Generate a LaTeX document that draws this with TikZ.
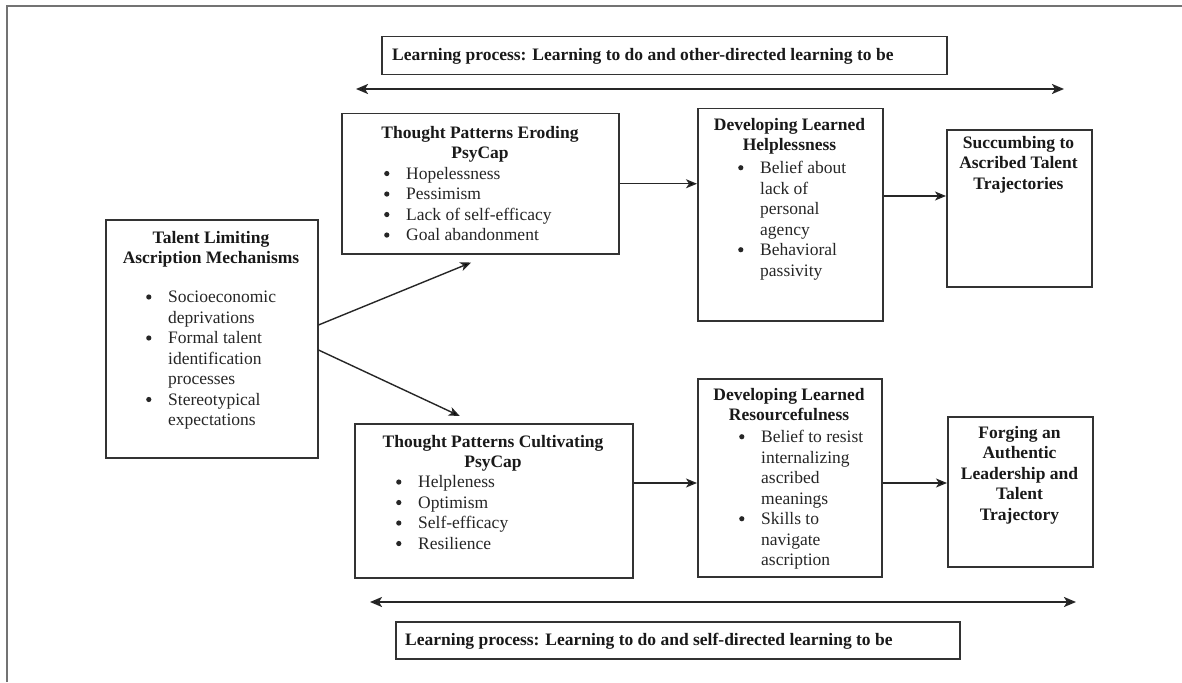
\documentclass[tikz,border=0pt]{standalone}
\usepackage{fontspec}
\setmainfont{Liberation Serif}
\usetikzlibrary{arrows.meta}
\newcommand{\bul}{\makebox[22pt][l]{\tikz[baseline=-5.8pt]\fill[black!85] (2.9pt,0pt) circle (2.6pt);}}
\newcommand{\ind}{\hspace*{22pt}}
\begin{document}
\begin{tikzpicture}[x=1pt,y=-1pt,
  box/.style={draw=black!80, line width=1.5pt, rectangle, inner sep=0pt, anchor=north west},
  hd/.style={font=\fontsize{17.5}{20.5}\selectfont\bfseries, align=center, inner sep=0pt, text=black!90, anchor=north},
  lab/.style={font=\fontsize{17.5}{20.5}\selectfont\bfseries, inner sep=0pt, text=black!90, anchor=base west},
  lst/.style={font=\fontsize{17.5}{20.5}\selectfont, align=left, inner sep=0pt, text=black!85, anchor=north west},
  arr/.style={line width=1.4pt, draw=black!85, -{Stealth[length=11pt,width=9pt,inset=3pt]}},
  darr/.style={line width=2pt, draw=black!85, {Stealth[length=12pt,width=10pt,inset=3pt]}-{Stealth[length=12pt,width=10pt,inset=3pt]}}]
\useasboundingbox (0,0) rectangle (1182,682);
\fill[white] (0,0) rectangle (1182,682);
\draw[line width=2.2pt, draw=black!55] (7,682) -- (7,6) -- (1182,6);

% boxes
\node[box, minimum width=565pt, minimum height=38pt] (top) at (381,36) {};
\node[box, minimum width=277pt, minimum height=140pt] (erod) at (341,113) {};
\node[box, minimum width=185pt, minimum height=212pt] (dh) at (697,108) {};
\node[box, minimum width=145pt, minimum height=157pt] (succ) at (946,129) {};
\node[box, minimum width=212pt, minimum height=238pt] (tal) at (105,219) {};
\node[box, minimum width=278pt, minimum height=154pt] (cult) at (354,423) {};
\node[box, minimum width=184pt, minimum height=198pt] (res) at (697,378) {};
\node[box, minimum width=145pt, minimum height=150pt] (forg) at (947,416) {};
\node[box, minimum width=564pt, minimum height=37pt] (bot) at (395,621) {};

% label texts
\node[lab] (topT) at (392,61) {Learning process: Learning to do and other-directed learning to be};
\node[lab] (botT) at (405,645) {Learning process: Learning to do and self-directed learning to be};

% headings and lists
\node[hd] (erodH) at (480,126) {Thought Patterns Eroding\\PsyCap};
\node[lst] (erodL) at (384,167) {\bul Hopelessness\\ \bul Pessimism\\ \bul Lack of self-efficacy\\ \bul Goal abandonment};

\node[hd] (dhH) at (789.5,118) {Developing Learned\\Helplessness};
\node[lst] (dhL) at (738,161) {\bul Belief about\\ \ind lack of\\ \ind personal\\ \ind agency\\ \bul Behavioral\\ \ind passivity};

\node[hd] (succH) at (1018.5,136) {Succumbing to\\Ascribed Talent\\Trajectories};

\node[hd] (talH) at (211,231) {Talent Limiting\\Ascription Mechanisms};
\node[lst] (talL) at (146,291) {\bul Socioeconomic\\ \ind deprivations\\ \bul Formal talent\\ \ind identification\\ \ind processes\\ \bul Stereotypical\\ \ind expectations};

\node[hd] (cultH) at (493,435) {Thought Patterns Cultivating\\PsyCap};
\node[lst] (cultL) at (396,475.5) {\bul Helpleness\\ \bul Optimism\\ \bul Self-efficacy\\ \bul Resilience};

\node[hd] (resH) at (789,388) {Developing Learned\\Resourcefulness};
\node[lst] (resL) at (739,430) {\bul Belief to resist\\ \ind internalizing\\ \ind ascribed\\ \ind meanings\\ \bul Skills to\\ \ind navigate\\ \ind ascription};

\node[hd] (forgH) at (1019.5,426) {Forging an\\Authentic\\Leadership and\\Talent\\Trajectory};

% helper coordinates
\coordinate (yA) at (0,196);
\coordinate (yB) at (0,325);
\coordinate (yC) at (0,350);
\coordinate (yD) at (0,483);
\coordinate (tl) at (356,89);
\coordinate (tr) at (1064,89);
\coordinate (bl) at (370,602);
\coordinate (br) at (1076,602);

% connectors
\draw[arr] (erod.east) -- (erod.east -| dh.west);
\draw[arr] (dh.east |- yA) -- (succ.west |- yA);
\draw[arr] (tal.east |- yB) -- ([xshift=-9pt,yshift=-8pt]erod.south);
\draw[arr] (tal.east |- yC) -- ([xshift=-34pt,yshift=7pt]cult.north);
\draw[arr] (cult.east |- yD) -- (res.west |- yD);
\draw[arr] (res.east |- yD) -- (forg.west |- yD);
\draw[darr] (tl) -- (tr);
\draw[darr] (bl) -- (br);
\end{tikzpicture}
\end{document}
